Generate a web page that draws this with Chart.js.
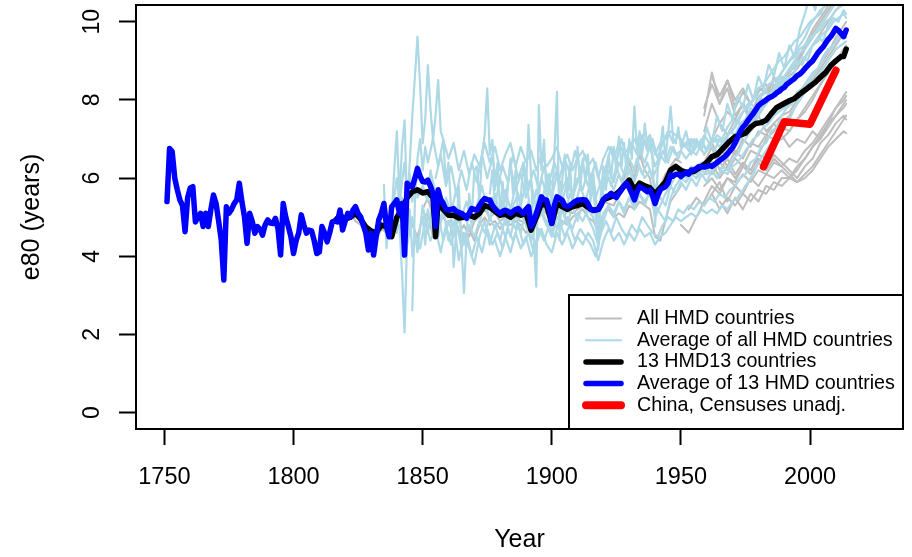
<!DOCTYPE html>
<html><head><meta charset="utf-8">
<script src="https://cdn.jsdelivr.net/npm/chart.js@4"></script>
<style>html,body{margin:0;padding:0;background:#fff;}canvas{display:block;}</style>
</head><body>
<canvas id="c" width="912" height="557"></canvas>
<script>
// ---------- DATA ----------
const xTickYears = [1750, 1800, 1850, 1900, 1950, 2000];
const yTickValues = [0, 2, 4, 6, 8, 10];

// Average of 13 HMD countries (blue), annual from 1751
const blueStartYear = 1751;
const blueVals = [
 5.40,6.76,6.68,6.00,5.70,5.44,5.30,4.63,5.50,5.75,
 5.78,4.88,5.00,5.10,4.76,5.10,4.76,5.20,5.57,5.35,
 4.90,4.42,3.39,5.27,5.10,5.20,5.35,5.44,5.87,5.40,
 5.01,4.33,5.10,4.90,4.59,4.76,4.70,4.54,4.80,4.93,
 4.85,4.84,4.97,4.70,4.03,5.35,5.00,4.76,4.50,4.07,
 4.40,4.59,5.06,4.80,4.59,4.67,4.65,4.40,4.07,4.11,
 4.76,4.60,4.37,4.60,4.88,4.90,4.88,5.18,4.67,4.90,
 5.10,5.00,5.18,5.27,5.10,5.01,4.80,4.59,4.16,4.59,
 4.03,4.50,4.93,5.10,5.35,4.76,4.50,5.27,5.35,5.44,
 5.10,5.35,4.03,5.87,5.80,5.78,6.00,6.25,6.05,5.91,
 5.90,5.95,5.80,5.61,4.76,5.70,5.45,5.35,5.20,5.18,
 5.20,5.22,5.15,5.12,5.10,5.05,4.97,5.10,5.22,5.20,
 5.18,5.30,5.40,5.48,5.45,5.44,5.30,5.22,5.15,5.10,
 5.15,5.18,5.15,5.10,5.15,5.20,5.22,5.15,5.10,5.20,
 5.27,4.76,4.90,5.10,5.30,5.52,5.45,5.44,5.20,4.84,
 5.30,5.52,5.48,5.44,5.30,5.27,5.30,5.35,5.40,5.44,
 5.44,5.45,5.44,5.35,5.20,5.18,5.18,5.20,5.30,5.45,
 5.52,5.55,5.61,5.55,5.50,5.61,5.70,5.80,5.87,5.75,
 5.60,5.44,5.65,5.78,5.75,5.70,5.65,5.70,5.55,5.35,
 5.55,5.70,5.75,5.78,5.87,6.08,6.05,6.10,6.10,6.04,
 6.10,6.15,6.10,6.21,6.20,6.25,6.30,6.30,6.28,6.30,
 6.32,6.30,6.35,6.40,6.45,6.50,6.55,6.62,6.70,6.78,
 6.90,7.05,7.20,7.30,7.38,7.48,7.57,7.65,7.75,7.85,
 7.91,7.95,8.00,8.05,8.08,8.12,8.18,8.22,8.28,8.32,
 8.40,8.45,8.50,8.55,8.62,8.66,8.72,8.80,8.87,8.94,
 9.00,9.10,9.20,9.28,9.35,9.45,9.55,9.62,9.72,9.83,
 9.78,9.70,9.62,9.79
];

// 13 HMD13 countries (black)
const blackPairs = [
 [1816,4.9],[1818,5.05],[1820,4.95],[1822,5.0],[1824,5.1],[1826,4.95],[1828,4.75],[1830,4.65],[1832,4.6],[1834,4.8],
 [1836,4.75],[1838,4.5],[1840,5.0],[1842,5.2],[1844,5.5],[1846,5.65],[1848,5.7],[1850,5.62],[1852,5.65],[1854,5.5],
 [1855,4.5],[1856,5.4],[1858,5.2],[1860,5.05],[1862,5.05],[1864,4.98],[1866,5.0],[1868,5.05],[1870,5.0],[1872,5.1],
 [1874,5.3],[1876,5.25],[1878,5.15],[1880,5.05],[1882,5.08],[1884,5.0],[1886,5.1],[1888,5.05],[1890,5.1],[1892,4.67],
 [1894,5.0],[1896,5.35],[1898,5.3],[1900,4.84],[1902,5.35],[1904,5.27],[1906,5.2],[1908,5.27],[1910,5.3],[1912,5.35],
 [1914,5.25],[1916,5.18],[1918,5.2],[1920,5.45],[1922,5.5],[1924,5.55],[1926,5.65],[1928,5.8],[1930,5.95],[1932,5.7],
 [1934,5.87],[1936,5.8],[1938,5.75],[1940,5.6],[1942,5.75],[1944,5.9],[1946,6.2],[1948,6.3],[1950,6.2],[1952,6.15],
 [1955,6.17],[1958,6.3],[1960,6.4],[1962,6.55],[1964,6.6],[1967,6.81],[1969,6.95],[1971,7.06],[1973,7.1],[1975,7.15],
 [1977,7.3],[1979,7.4],[1981,7.42],[1983,7.48],[1985,7.65],[1987,7.8],[1990,7.91],[1992,7.98],[1994,8.04],[1996,8.15],
 [1998,8.25],[2000,8.35],[2002,8.45],[2004,8.58],[2006,8.7],[2008,8.88],[2010,9.0],[2012,9.11],[2013,9.11],[2014,9.3]
];

// China, censuses unadjusted (red)
const chinaYears = [1982, 1990, 2000, 2010];
const chinaVals = [6.29, 7.44, 7.38, 8.76];

// Light blue country lines
const lb1 = [
 [1838,5.0],[1839,6.2],[1840,7.2],[1841,5.5],[1842,6.8],[1843,7.48],[1844,5.2],[1845,6.4],[1846,7.6],[1847,8.6],
 [1848,9.62],[1849,8.4],[1850,6.89],[1851,7.5],[1852,8.89],[1853,7.8],[1854,6.98],[1855,7.6],[1856,8.51],[1857,7.2],
 [1858,6.98],[1859,5.9],[1860,6.4],[1861,5.2],[1862,3.73],[1863,4.6],[1864,5.8],[1865,4.3],[1866,3.06],[1867,4.5],
 [1868,5.6],[1869,5.0],[1870,6.2],[1871,6.3],[1872,5.4],[1873,6.6],[1874,7.1],[1875,8.30],[1876,6.6],[1877,6.98],
 [1878,5.7],[1879,6.4],[1880,5.1],[1881,5.9],[1882,4.8],[1883,5.8],[1884,6.5],[1885,5.6],[1886,6.2],[1887,4.9],
 [1888,5.5],[1889,6.4],[1890,5.7],[1891,7.36],[1892,6.0],[1893,4.5],[1894,3.22],[1895,7.87],[1896,6.2],[1897,6.98],
 [1898,5.4],[1899,6.1],[1900,5.2],[1901,6.6],[1902,8.21],[1903,4.42],[1904,5.9],[1905,6.6],[1906,5.5],[1907,6.4],
 [1908,5.3],[1909,6.0],[1910,6.8],[1911,5.7],[1912,6.5],[1913,5.9],[1914,6.6],[1915,5.4],[1916,6.2],[1917,5.0],
 [1918,4.16],[1919,5.6],[1920,6.3],[1921,5.7],[1922,6.6],[1923,6.0],[1924,6.8],[1925,6.2],[1926,7.06],[1927,6.3],
 [1928,6.9],[1929,6.1],[1930,7.0],[1931,6.5],[1932,7.83],[1933,6.7],[1934,7.2],[1935,6.6],[1936,7.40],[1937,6.8],
 [1938,7.1],[1939,6.5],[1940,4.76],[1941,6.2],[1942,6.8],[1943,7.32],[1944,6.5],[1945,7.1],[1946,7.83],[1947,7.0],
 [1948,6.89],[1949,7.3],[1950,6.8],[1952,7.2],[1954,6.6],[1956,7.0],[1958,6.7],[1960,7.3],[1962,6.9],[1964,7.6],
 [1966,7.2],[1968,7.9],[1970,7.5],[1972,8.1],[1974,7.8],[1976,8.4],[1978,8.0],[1980,8.6],[1982,8.3],[1984,8.9],
 [1986,8.6],[1988,9.2],[1990,8.8],[1992,9.4],[1994,9.1],[1996,9.8],[1998,10.2],[2000,10.7],[2002,10.3],[2004,10.9],
 [2006,10.6],[2008,11.0],[2010,10.8],[2012,11.2],[2014,11.0]
];
const lb2 = [
 [1835,5.83],[1836,4.21],[1837,5.0],[1839,5.52],[1840,6.0],[1841,5.3],[1842,5.9],[1843,6.4],[1844,5.6],[1845,6.1],
 [1846,5.4],[1847,6.0],[1848,5.5],[1850,5.8],[1852,5.4],[1853,6.2],[1855,5.6],[1857,4.9],[1859,5.5],[1861,5.1],
 [1863,5.7],[1865,5.0],[1867,5.4],[1869,4.8],[1871,5.3],[1873,5.8],[1875,5.1],[1877,5.5],[1879,5.0],[1881,5.4],
 [1883,4.9],[1885,5.3],[1887,5.6],[1889,5.0],[1891,5.4],[1893,4.8],[1895,5.6],[1897,5.2],[1899,5.7],[1901,5.1],
 [1903,5.5],[1905,5.0],[1907,5.6],[1909,5.3],[1911,5.8],[1913,5.4],[1915,5.9],[1917,5.5],[1919,5.9],[1921,6.2],
 [1923,5.8],[1925,6.3],[1927,5.9],[1929,6.4],[1931,6.0],[1933,6.5],[1935,6.1],[1937,6.4],[1939,6.0],[1941,6.3],
 [1943,6.7],[1945,6.4],[1947,6.8],[1949,6.5],[1951,6.9],[1953,6.7],[1955,7.0],[1957,6.8],[1959,7.1],[1961,6.9],
 [1963,7.0],[1965,6.8],[1967,7.0],[1969,7.2],[1971,7.1],[1973,7.4],[1975,7.5],[1977,7.8],[1979,7.6],[1981,8.0],
 [1983,7.9],[1985,8.2],[1987,8.1],[1989,8.4],[1991,8.6],[1993,8.5],[1995,8.9],[1997,9.1],[1999,9.0],[2001,9.4],
 [2003,9.6],[2005,9.5],[2007,9.9],[2009,10.1],[2011,10.0],[2013,10.3],[2014,10.2]
];
const lb3 = [
 [1841,4.8],[1842,3.6],[1843,2.05],[1844,4.5],[1845,5.2],[1846,4.0],[1847,4.6],[1849,4.2],[1851,4.9],[1853,4.4],
 [1855,4.7],[1857,4.1],[1859,4.8],[1861,4.3],[1863,4.9],[1865,4.2],[1867,4.6],[1869,4.0],[1871,4.5],[1873,4.1],
 [1875,4.7],[1877,4.3],[1879,4.6],[1881,4.2],[1883,4.7],[1885,4.4],[1887,4.8],[1889,4.3],[1891,4.6],[1893,4.1],
 [1895,4.7],[1897,4.4],[1899,4.8],[1901,4.5],[1903,4.9],[1905,4.5],[1907,4.8],[1909,4.4],[1911,4.7],[1913,4.5],
 [1915,4.3],[1917,4.0],[1919,4.6],[1921,4.9],[1923,4.6],[1925,5.0],[1927,4.7],[1929,4.5],[1931,4.8],[1933,4.6],
 [1935,5.0],[1937,4.8],[1939,4.6],[1941,4.5],[1943,4.8],[1945,5.0],[1947,4.9],[1949,5.2],[1951,5.1],[1953,5.3],
 [1955,5.2],[1957,5.4],[1959,5.3],[1961,5.5],[1963,5.4],[1965,5.6],[1967,5.5],[1969,5.7],[1971,5.8],[1973,6.0],
 [1975,6.1],[1977,6.4],[1979,6.5],[1981,6.8],[1983,6.9],[1985,7.2],[1987,7.3],[1989,7.6],[1991,7.8],[1993,7.9],
 [1995,8.2],[1997,8.3],[1999,8.5],[2001,8.7],[2003,8.8],[2005,9.1],[2007,9.3],[2009,9.4],[2011,9.6],[2013,9.7],[2014,9.6]
];
const lb4 = [
 [1846,2.62],[1847,5.4],[1848,6.5],[1849,7.0],[1850,6.2],[1851,6.8],[1852,6.4],[1854,7.0],[1856,6.3],[1858,6.98],
 [1860,6.5],[1862,6.9],[1864,6.2],[1866,6.7],[1868,6.1],[1870,6.6],[1872,6.3],[1874,6.9],[1876,6.4],[1878,6.8],
 [1880,6.2],[1882,6.6],[1884,6.9],[1886,6.3],[1888,6.8],[1890,6.4],[1892,6.7],[1894,6.2],[1896,6.6],[1898,6.3],
 [1900,6.5],[1902,6.8],[1904,6.3],[1906,6.6],[1908,6.2],[1910,6.5],[1912,6.7],[1914,6.3],[1916,6.5],[1918,6.0],
 [1920,6.5],[1922,6.8],[1924,6.5],[1926,6.9],[1928,6.6],[1930,6.8],[1932,7.0],[1934,6.7],[1936,6.9],[1938,7.1],
 [1940,6.6],[1942,6.9],[1944,7.0],[1946,7.2],[1948,7.1],[1950,7.0],[1952,6.8],[1954,7.0],[1956,6.8],[1958,7.0],
 [1960,6.7],[1962,6.9],[1964,7.0],[1966,6.9],[1968,7.1],[1970,7.2],[1972,7.5],[1974,7.7],[1976,7.8],[1978,8.0],
 [1980,8.1],[1982,8.2],[1984,8.4],[1986,8.5],[1988,8.6],[1990,8.8],[1992,9.0],[1994,9.1],[1996,9.3],[1998,9.4],
 [2000,9.6],[2002,9.7],[2004,9.9],[2006,10.1],[2008,10.3],[2010,10.5],[2012,10.6],[2014,10.7]
];
const lb5 = [
 [1850,5.0],[1851,4.3],[1852,5.2],[1854,4.6],[1856,5.1],[1858,4.4],[1860,4.9],[1862,4.5],[1864,5.0],[1866,4.3],
 [1868,4.8],[1870,4.5],[1872,4.9],[1874,4.6],[1876,5.0],[1878,4.7],[1880,4.9],[1882,4.5],[1884,5.0],[1886,4.7],
 [1888,5.1],[1890,4.8],[1892,4.4],[1894,4.9],[1896,5.1],[1898,4.8],[1900,4.5],[1902,5.0],[1904,4.8],[1906,5.0],
 [1908,4.7],[1910,5.1],[1912,4.9],[1914,5.2],[1916,5.0],[1918,4.5],[1920,5.1],[1922,5.3],[1924,5.1],[1926,5.4],
 [1928,5.2],[1930,5.5],[1932,5.3],[1934,5.6],[1936,5.4],[1938,5.6],[1940,5.3],[1942,5.1],[1944,4.9],[1946,5.5],
 [1948,5.8],[1950,6.0],[1952,5.9],[1954,6.1],[1956,6.0],[1958,6.2],[1960,6.1],[1962,6.2],[1964,6.0],[1966,6.2],
 [1968,6.1],[1970,6.3],[1972,6.4],[1974,6.6],[1976,6.8],[1978,7.0],[1980,7.1],[1982,7.3],[1984,7.4],[1986,7.6],
 [1988,7.7],[1990,7.8],[1992,7.9],[1994,8.0],[1996,8.1],[1998,8.2],[2000,8.3],[2002,8.5],[2004,8.7],[2006,8.9],
 [2008,9.1],[2010,9.3],[2012,9.4],[2014,9.5]
];
const lb6 = [
 [1876,5.6],[1877,6.2],[1878,5.3],[1880,6.0],[1882,5.4],[1884,6.3],[1886,5.7],[1888,6.1],[1890,5.5],[1892,5.9],
 [1894,5.2],[1896,6.0],[1898,5.6],[1900,5.9],[1902,6.2],[1904,5.7],[1906,6.0],[1908,5.5],[1910,5.9],[1912,6.3],
 [1914,5.8],[1916,6.1],[1918,5.0],[1920,5.8],[1922,6.2],[1924,5.9],[1926,6.4],[1928,6.1],[1930,6.5],[1932,6.2],
 [1934,6.7],[1936,6.4],[1938,6.8],[1940,6.3],[1942,6.6],[1944,6.4],[1946,6.8],[1948,6.6],[1950,6.7],[1952,6.5],
 [1954,6.7],[1956,6.6],[1958,6.9],[1960,6.7],[1962,6.9],[1964,7.1],[1966,7.0],[1968,7.3],[1970,7.5],[1972,7.4],
 [1974,7.7],[1976,7.9],[1978,8.0],[1980,8.3],[1982,8.4],[1984,8.6],[1986,8.8],[1988,9.0],[1990,9.1],[1992,9.3],
 [1994,9.5],[1996,9.6],[1998,9.8],[2000,10.0],[2002,10.1],[2004,10.3],[2006,10.4],[2008,10.6],[2010,10.7],[2012,10.9],[2014,11.0]
];
const lb7 = [
 [1878,4.4],[1880,4.0],[1882,4.5],[1884,4.1],[1886,4.6],[1888,4.2],[1890,4.5],[1892,4.0],[1894,4.3],[1896,4.7],
 [1898,4.3],[1900,4.1],[1902,4.6],[1904,4.3],[1906,4.6],[1908,4.2],[1910,4.5],[1912,4.3],[1914,4.6],[1916,4.4],
 [1918,3.9],[1920,4.4],[1922,4.7],[1924,4.4],[1926,4.6],[1928,4.3],[1930,4.6],[1932,4.4],[1934,4.7],[1936,4.5],
 [1938,4.6],[1940,4.3],[1942,4.5],[1944,4.6],[1946,4.8],[1948,5.0],[1950,4.9],[1952,5.0],[1954,5.1],[1956,5.0],
 [1958,5.2],[1960,5.1],[1962,5.2],[1964,5.1],[1966,5.3],[1968,5.2],[1970,5.4],[1972,5.5],[1974,5.7],[1976,5.9],
 [1978,6.1],[1980,6.4],[1982,6.6],[1984,6.8],[1986,7.0],[1988,7.2],[1990,7.3],[1992,7.5],[1994,7.8],[1996,8.0],
 [1998,8.2],[2000,8.5],[2002,8.7],[2004,8.9],[2006,9.2],[2008,9.3],[2010,9.5],[2012,9.7],[2014,9.8]
];
const lb8 = [
 [1872,4.8],[1874,5.5],[1876,4.9],[1878,5.6],[1880,5.0],[1882,5.7],[1884,5.2],[1886,5.8],[1888,5.3],[1890,5.9],
 [1892,5.1],[1894,5.7],[1896,5.3],[1898,6.0],[1900,5.5],[1902,6.1],[1904,5.4],[1906,5.9],[1908,5.6],[1910,6.0],
 [1912,5.7],[1914,6.2],[1916,5.6],[1918,4.8],[1920,5.7],[1922,6.0],[1924,5.7],[1926,6.1],[1928,5.8],[1930,6.2],
 [1932,5.9],[1934,6.3],[1936,6.0],[1938,6.2],[1940,5.8],[1942,5.5],[1944,5.3],[1946,5.8],[1948,6.1],[1950,6.2],
 [1952,6.0],[1954,6.3],[1956,6.1],[1958,6.4],[1960,6.2],[1962,6.4],[1964,6.3],[1966,6.6],[1968,6.5],[1970,6.8],
 [1972,6.9],[1974,7.1],[1976,7.3],[1978,7.5],[1980,7.7],[1982,7.9],[1984,8.1],[1986,8.3],[1988,8.6],[1990,8.8],
 [1992,9.0],[1994,9.2],[1996,9.4],[1998,9.6],[2000,9.9],[2002,10.1],[2004,10.2],[2006,10.5],[2008,10.6],[2010,10.8],
 [2012,10.9],[2014,11.1]
];
const lb9 = [
 [1855,6.0],[1857,6.6],[1859,5.8],[1861,6.3],[1863,5.6],[1865,6.2],[1867,5.7],[1869,6.4],[1871,5.9],[1873,6.6],
 [1875,6.0],[1877,6.5],[1879,5.8],[1881,6.3],[1883,5.9],[1885,6.6],[1887,6.0],[1889,6.4],[1891,5.8],[1893,6.2],
 [1895,5.7],[1897,6.3],[1899,5.9],[1901,6.4],[1903,6.0],[1905,6.5],[1907,6.1],[1909,6.7],[1911,6.2],[1913,6.6],
 [1915,6.0],[1917,6.4],[1919,5.7],[1921,6.3],[1923,6.8],[1925,6.4],[1927,7.0],[1929,6.5],[1931,6.9],[1933,6.6],
 [1935,7.1],[1937,6.7],[1939,7.0],[1941,6.5],[1943,6.9],[1945,7.2],[1947,6.9],[1949,7.1],[1951,6.8],[1953,7.0],
 [1955,6.7],[1957,6.9],[1959,6.6],[1961,6.9],[1963,6.7],[1965,7.0],[1967,6.9],[1969,7.2],[1971,7.3],[1973,7.6],
 [1975,7.8],[1977,7.9],[1979,7.8],[1981,8.1],[1983,8.2],[1985,8.1],[1987,8.4],[1989,8.6],[1991,8.5],[1993,8.8],
 [1995,9.0],[1997,8.9],[1999,9.2],[2001,9.4],[2003,9.5],[2005,9.7],[2007,9.8],[2009,10.0],[2011,10.1],[2013,10.2],[2014,10.1]
];
const lb10 = [
 [1840,4.6],[1842,5.5],[1844,4.3],[1846,5.0],[1848,4.1],[1850,5.3],[1852,4.6],[1854,5.4],[1856,4.5],[1858,5.2],
 [1860,4.4],[1862,4.9],[1864,3.9],[1866,4.6],[1868,4.2],[1870,3.8],[1872,4.5],[1874,4.9],[1876,4.3],[1878,4.8],
 [1880,4.4],[1882,5.0],[1884,4.5],[1886,5.1],[1888,4.6],[1890,5.2],[1892,4.4],[1894,4.9],[1896,5.3],[1898,4.8],
 [1900,5.1],[1902,4.7],[1904,5.2],[1906,4.8],[1908,5.3],[1910,4.9],[1912,5.4],[1914,5.0],[1916,4.7],[1918,4.3],
 [1920,4.9],[1922,5.3],[1924,5.0],[1926,5.4],[1928,5.1],[1930,5.5],[1932,5.2],[1934,5.6],[1936,5.3],[1938,5.7],
 [1940,5.0],[1942,5.3],[1944,5.6],[1946,5.8],[1948,5.6],[1950,5.9],[1952,5.7],[1954,6.0],[1956,5.8],[1958,6.1],
 [1960,5.9],[1962,6.2],[1964,6.0],[1966,6.3],[1968,6.2],[1970,6.5],[1972,6.6],[1974,6.9],[1976,7.1],[1978,7.3],
 [1980,7.6],[1982,7.8],[1984,8.0],[1986,8.2],[1988,8.4],[1990,8.6],[1992,8.8],[1994,9.0],[1996,9.2],[1998,9.3],
 [2000,9.5],[2002,9.7],[2004,9.8],[2006,10.0],[2008,10.1],[2010,10.3],[2012,10.4],[2014,10.5]
];

// Grey lines: all HMD countries
const greyEarly1 = [
 [1816,4.9],[1818,5.2],[1820,4.8],[1822,5.1],[1824,4.9],[1826,4.8],[1828,4.6],[1830,4.7],[1832,4.4],[1834,4.7],
 [1836,4.6],[1838,4.5],[1840,4.8],[1842,4.7],[1844,5.0],[1846,4.8],[1848,4.5],[1850,5.0],[1852,5.1],[1854,4.5],
 [1856,4.9],[1858,5.0],[1860,4.8],[1862,5.1],[1864,4.6],[1866,4.5],[1868,4.7],[1870,4.4],[1872,4.8],[1874,5.0],
 [1876,4.8],[1878,4.9],[1880,4.7],[1882,4.9],[1884,4.8],[1886,4.9],[1888,4.8],[1890,4.6],[1892,4.7],[1894,4.9],
 [1896,5.1],[1898,4.9],[1900,4.6],[1902,5.0],[1904,4.9],[1906,4.8],[1908,5.0],[1910,5.1],[1912,5.2],[1914,5.0],
 [1916,4.9],[1918,4.7],[1920,5.1],[1922,5.2],[1924,5.0],[1926,5.1],[1928,5.0],[1930,5.3],[1932,5.2],[1934,5.4],
 [1936,5.3],[1938,5.2],[1940,4.5],[1942,4.4],[1944,4.9],[1946,5.4],[1948,5.6],[1950,5.8]
];
const greyEarly2 = [
 [1850,5.2],[1852,5.5],[1854,5.0],[1856,5.3],[1858,5.1],[1860,5.0],[1862,5.2],[1864,4.6],[1866,4.8],[1868,4.5],
 [1870,4.9],[1872,5.0],[1874,5.2],[1876,5.0],[1878,5.1],[1880,4.9],[1884,5.1],[1888,4.9],[1892,4.8],[1896,5.2],
 [1900,5.0],[1904,5.2],[1908,5.1],[1912,5.3],[1916,5.1],[1920,5.4],[1924,5.3],[1926,5.6],[1928,6.0],[1930,6.4],
 [1932,6.0],[1934,6.6],[1936,6.2],[1938,6.0],[1940,5.2],[1942,5.8],[1944,6.1],[1946,6.3],[1948,6.5],[1950,6.4]
];
const greyYears = [1950,1953,1956,1959,1962,1965,1968,1971,1974,1977,1980,1983,1986,1989,1992,1995,1998,2001,2004,2007,2010,2013,2014];
const grey1  = [null,null,null,7.6,8.7,7.9,8.3,7.6,7.9,7.4,7.6,7.2,7.4,7.1,6.8,7.0,6.9,7.2,7.0,7.4,7.6,7.8,7.9];
const grey2  = [null,null,null,7.2,7.9,7.4,7.7,7.5,7.9,7.6,8.1,7.9,8.4,8.2,8.6,8.8,9.1,9.4,9.7,10.0,10.3,10.5,10.6];
const grey3  = [null,null,6.0,6.3,6.1,6.4,6.2,6.5,6.3,6.7,6.6,7.0,7.2,7.4,7.6,7.9,8.2,8.5,8.8,9.1,9.4,9.7,9.8];
const grey4  = [null,null,null,null,5.6,5.9,5.4,5.8,5.6,6.0,5.8,6.1,6.0,6.2,6.0,6.3,6.5,6.8,7.0,7.3,7.6,7.9,8.0];
const grey5  = [null,5.2,5.5,5.3,5.6,5.2,5.5,5.3,5.6,5.4,5.7,5.6,5.9,5.8,6.0,5.9,6.1,6.3,6.6,6.9,7.2,7.5,7.6];
const grey6  = [null,null,null,6.6,6.9,6.5,6.8,6.6,7.0,6.8,7.2,7.1,7.4,7.6,7.7,8.0,8.3,8.6,8.9,9.2,9.6,9.9,10.0];
const grey7  = [null,null,null,null,6.2,6.6,6.3,6.7,6.5,6.9,6.8,7.1,7.0,7.3,7.2,7.5,7.7,8.0,8.4,8.7,9.0,9.3,9.4];
const grey8  = [null,null,null,5.8,6.0,5.7,6.0,5.8,6.1,5.9,6.2,6.1,6.4,6.3,6.5,6.4,6.7,6.9,7.2,7.5,7.8,8.1,8.2];
const grey9  = [null,null,null,null,7.0,7.4,7.1,7.5,7.3,7.7,7.6,8.0,8.6,8.3,8.7,9.0,9.3,9.7,10.0,10.3,10.6,10.8,10.9];
const grey10 = [null,null,null,6.4,6.8,6.2,6.5,6.1,6.4,6.2,6.5,6.3,6.6,6.4,6.2,6.0,6.3,6.5,6.9,7.1,7.4,7.6,7.5];
const grey11 = [null,null,null,null,null,5.4,5.1,5.5,5.2,5.6,5.4,5.8,5.7,6.0,6.0,6.2,6.5,6.8,7.1,7.4,7.8,8.0,8.1];
const grey12 = [null,null,null,7.8,8.4,7.9,8.5,7.8,8.2,7.9,8.3,8.2,8.5,8.4,8.7,8.9,9.3,9.6,9.9,10.2,10.5,10.7,10.8];
const grey13 = [4.8,4.6,5.0,5.4,5.8,5.6,6.0,5.9,6.3,6.2,6.6,6.5,6.9,7.0,7.2,7.5,7.8,8.1,8.4,8.7,9.0,9.2,9.3];
const grey14 = [null,null,null,6.1,6.4,6.0,6.3,6.0,6.3,6.1,6.4,6.2,6.5,6.3,6.1,5.9,6.0,6.2,6.5,6.8,7.0,7.2,7.15];
const grey15 = [null,null,null,null,8.6,8.1,8.5,8.0,8.3,7.9,8.2,8.4,8.1,8.5,8.7,9.0,9.4,9.8,10.1,10.4,10.7,10.9,11.0];

const legendLabels = ['All HMD countries','Average of all HMD countries','13 HMD13 countries','Average of 13 HMD countries','China, Censuses unadj.'];

// ---------- STYLES ----------
const FONT = "'Liberation Sans', Arial, Helvetica, sans-serif";
const C_GREY = '#BEBEBE', C_LB = '#ADD8E6', C_BLACK = '#000000', C_BLUE = '#0000FF', C_RED = '#FF0000';
const legendStyles = [[C_GREY,2],[C_LB,2],[C_BLACK,5.5],[C_BLUE,5.5],[C_RED,8]];

function fromPairs(p){ return p.map(d => ({x:d[0], y:d[1]})); }
function fromXY(xs, ys){ return xs.map((x,i) => ({x:x, y:ys[i]})); }
function lineDs(label, data, color, width){
  return {label, data, borderColor: color, backgroundColor: color, borderWidth: width,
          pointRadius: 0, pointHoverRadius: 0, tension: 0, fill: false,
          borderCapStyle: 'round', borderJoinStyle: 'round', spanGaps: false};
}

const blueData = blueVals.map((v,i) => ({x: blueStartYear + i, y: v}));

const datasets = [];
datasets.push(lineDs(legendLabels[4], fromXY(chinaYears, chinaVals), C_RED, 7.5));
datasets.push(lineDs(legendLabels[3], blueData, C_BLUE, 5.5));
datasets.push(lineDs(legendLabels[2], fromPairs(blackPairs), C_BLACK, 5.5));
[lb1, lb2, lb3, lb4, lb5, lb6, lb7, lb8, lb9, lb10].forEach(s => datasets.push(lineDs(legendLabels[1], fromPairs(s), C_LB, 2.2)));
[grey1,grey2,grey3,grey4,grey5,grey6,grey7,grey8,grey9,grey10,grey11,grey12,grey13,grey14,grey15]
  .forEach(s => datasets.push(lineDs(legendLabels[0], fromXY(greyYears, s), C_GREY, 2)));
[greyEarly1, greyEarly2].forEach(s => datasets.push(lineDs(legendLabels[0], fromPairs(s), C_GREY, 2)));

const framePlugin = {
  id: 'rframe',
  afterDatasetsDraw(chart){
    const {ctx, chartArea: a, scales} = chart;
    ctx.save();
    ctx.strokeStyle = '#000'; ctx.lineWidth = 2;
    ctx.strokeRect(a.left, a.top, a.right - a.left, a.bottom - a.top);
    // y tick labels, rotated like R (las = 0)
    ctx.fillStyle = '#000';
    ctx.font = '23px ' + FONT;
    ctx.textAlign = 'center'; ctx.textBaseline = 'middle';
    yTickValues.forEach(v => {
      const py = scales.y.getPixelForValue(v);
      ctx.save(); ctx.translate(93, py); ctx.rotate(-Math.PI/2);
      ctx.fillText(String(v), 0, 0); ctx.restore();
    });
    // legend (bottom right)
    const bw = 334, bh = 134;
    const bx = a.right - bw, by = a.bottom - bh;
    ctx.fillStyle = '#fff'; ctx.fillRect(bx, by, bw, bh);
    ctx.strokeStyle = '#000'; ctx.lineWidth = 2; ctx.strokeRect(bx, by, bw, bh);
    ctx.font = '19.7px ' + FONT; ctx.textAlign = 'left'; ctx.textBaseline = 'middle';
    legendLabels.forEach((lab, i) => {
      const cy = by + 23.5 + i * 21.7;
      ctx.strokeStyle = legendStyles[i][0]; ctx.lineWidth = legendStyles[i][1]; ctx.lineCap = 'round';
      ctx.beginPath(); ctx.moveTo(bx + 17, cy); ctx.lineTo(bx + 52, cy); ctx.stroke();
      ctx.fillStyle = '#000'; ctx.fillText(lab, bx + 68, cy);
    });
    ctx.restore();
  }
};

new Chart(document.getElementById('c'), {
  type: 'line',
  data: { datasets },
  plugins: [framePlugin],
  options: {
    responsive: false, animation: false, devicePixelRatio: 1, events: [],
    layout: { padding: { left: 0, top: 5, right: 9, bottom: 0 } },
    plugins: { legend: { display: false }, tooltip: { enabled: false }, title: { display: false } },
    scales: {
      x: {
        type: 'linear', min: 1739, max: 2036,
        afterFit: s => { s.height = 128; },
        border: { display: false },
        grid: { drawOnChartArea: false, drawTicks: true, tickLength: 16, tickColor: '#000', tickWidth: 2, color: '#000' },
        ticks: { stepSize: 50, includeBounds: false, autoSkip: false, maxRotation: 0, color: '#000', padding: 18,
                 font: { family: FONT, size: 23.5 }, callback: v => String(v) },
        title: { display: true, text: 'Year', color: '#000', font: { family: FONT, size: 25 }, padding: { top: 0, bottom: 1.5 } }
      },
      y: {
        type: 'linear', min: -0.42, max: 10.43,
        afterFit: s => { s.width = 136; },
        border: { display: false },
        grid: { drawOnChartArea: false, drawTicks: true, tickLength: 17, tickColor: '#000', tickWidth: 2, color: '#000' },
        ticks: { display: false, stepSize: 2, includeBounds: false },
        title: { display: true, text: 'e80 (years)', color: '#000', font: { family: FONT, size: 25 }, padding: { top: 17, bottom: 0 } }
      }
    }
  }
});
</script>
</body></html>
